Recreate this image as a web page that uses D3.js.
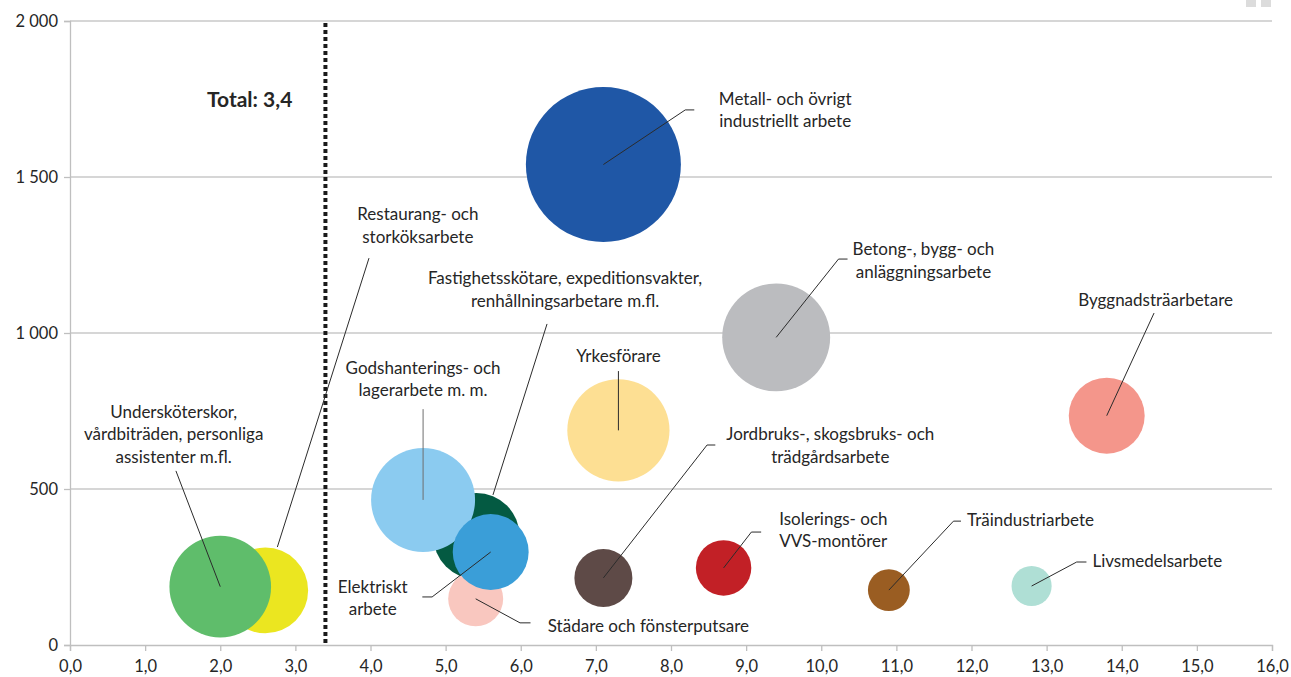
<!DOCTYPE html>
<html>
<head>
<meta charset="utf-8">
<script src="https://cdn.jsdelivr.net/npm/d3@7"></script>
<style>
  body { margin: 0; background: #fff; }
  svg text { font-family: Lato, "Noto Sans", sans-serif; fill: #262626; }
</style>
</head>
<body>
<div id="chart"></div>
<script>
// yrkesgrupper, ritordning (överlappande bubblor ligger sist)
const groups = [
    "Restaurang- och storköksarbete",
    "Undersköterskor, vårdbiträden, personliga assistenter m.fl.",
    "Fastighetsskötare, expeditionsvakter, renhållningsarbetare m.fl.",
    "Godshanterings- och lagerarbete m. m.",
    "Städare och fönsterputsare",
    "Elektriskt arbete",
    "Metall- och övrigt industriellt arbete",
    "Betong-, bygg- och anläggningsarbete",
    "Byggnadsträarbetare",
    "Yrkesförare",
    "Jordbruks-, skogsbruks- och trädgårdsarbete",
    "Isolerings- och VVS-montörer",
    "Träindustriarbete",
    "Livsmedelsarbete"
];
const xValues = [2.6, 2.0, 5.41, 4.7, 5.4, 5.6, 7.1, 9.4, 13.8, 7.3, 7.1, 8.7, 10.9, 12.8];
const yValues = [175, 187, 349, 465, 148, 298, 1540, 986, 735, 688, 215, 247, 176, 189];
const sizes   = [30.5, 43, 31, 45, 12.6, 24, 100, 48.5, 24, 43.5, 14, 12.8, 7.3, 6.7];
const colors  = ["#ebe620", "#5fbd6b", "#045a42", "#8bcbf0", "#f9c7bf", "#3a9ed8", "#1f57a6",
                 "#bbbcbf", "#f4968b", "#fddf93", "#5e4a47", "#c22026", "#9a5d22", "#afdfd5"];

const xTicks = d3.range(0, 17, 1);
const yTicks = [0, 500, 1000, 1500, 2000];
const totalValue = 3.4;

// etiketter: textrader, textankare, ev. start, hörn och slut på hänvisningslinje (i dataenheter)
const labels = [
    {lines: ["Restaurang- och", "storköksarbete"], tx: 4.63, ty: 1362, anchor: "middle", start: [2.76, 314], end: [3.98, 1240]},
    {lines: ["Undersköterskor,", "vårdbiträden, personliga", "assistenter m.fl."], tx: 1.38, ty: 728, anchor: "middle", end: [1.41, 558]},
    {lines: ["Fastighetsskötare, expeditionsvakter,", "renhållningsarbetare m.fl."], tx: 6.59, ty: 1157, anchor: "middle", start: [5.63, 481], end: [6.35, 1029]},
    {lines: ["Godshanterings- och", "lagerarbete m. m."], tx: 4.7, ty: 869, anchor: "middle", end: [4.7, 756], stroke: "#6e6e6e"},
    {lines: ["Städare och fönsterputsare"], tx: 6.36, ty: 42, anchor: "start", elbow: [5.99, 71], end: [6.13, 71]},
    {lines: ["Elektriskt", "arbete"], tx: 4.03, ty: 167, anchor: "middle", elbow: [4.82, 154], end: [4.69, 154]},
    {lines: ["Metall- och övrigt", "industriellt arbete"], tx: 9.52, ty: 1731, anchor: "middle", elbow: [8.19, 1715], end: [8.31, 1715]},
    {lines: ["Betong-, bygg- och", "anläggningsarbete"], tx: 11.36, ty: 1250, anchor: "middle", elbow: [10.23, 1237], end: [10.35, 1237]},
    {lines: ["Byggnadsträarbetare"], tx: 14.45, ty: 1087, anchor: "middle", end: [14.43, 1064]},
    {lines: ["Yrkesförare"], tx: 7.3, ty: 907, anchor: "middle", end: [7.3, 878]},
    {lines: ["Jordbruks-, skogsbruks- och", "trädgårdsarbete"], tx: 10.12, ty: 657, anchor: "middle", elbow: [8.48, 641], end: [8.59, 641]},
    {lines: ["Isolerings- och", "VVS-montörer"], tx: 9.44, ty: 385, anchor: "start", elbow: [9.07, 362], end: [9.2, 362]},
    {lines: ["Träindustriarbete"], tx: 11.94, ty: 381, anchor: "start", elbow: [11.76, 397], end: [11.86, 397]},
    {lines: ["Livsmedelsarbete"], tx: 13.61, ty: 250, anchor: "start", elbow: [13.4, 266], end: [13.53, 266]}
];

const width = 1291, height = 677;
const margin = {top: 21, right: 19, bottom: 32, left: 70};

const svg = d3.select("#chart").append("svg")
    .attr("width", width)
    .attr("height", height);

const x = d3.scaleLinear().domain([0, 16]).range([margin.left, width - margin.right]);
const y = d3.scaleLinear().domain([0, 2000]).range([height - margin.bottom, margin.top]);
const r = d3.scaleSqrt().domain([0, 100]).range([0, 77.5]);

const fmtX = d => d.toFixed(1).replace(".", ",");
const fmtY = d => d3.format(",")(d).replace(",", " ");

// gridlines
svg.append("g")
    .selectAll("line")
    .data(yTicks.filter(d => d > 0))
    .enter().append("line")
    .attr("x1", x(0))
    .attr("x2", x(16))
    .attr("y1", d => y(d))
    .attr("y2", d => y(d))
    .attr("stroke", "#c9c9c9")
    .attr("stroke-width", 1.3);

// axes
const xAxis = svg.append("g")
    .attr("transform", "translate(0," + y(0) + ")")
    .call(d3.axisBottom(x).tickValues(xTicks).tickFormat(fmtX).tickSizeOuter(0).tickSize(6).tickPadding(5));
const yAxis = svg.append("g")
    .attr("transform", "translate(" + x(0) + ",0)")
    .call(d3.axisLeft(y).tickValues(yTicks).tickFormat(fmtY).tickSizeOuter(0).tickSize(6).tickPadding(6));

[xAxis, yAxis].forEach(function(a){
    a.select(".domain").attr("stroke", "#bfbfbf").attr("stroke-width", 1.3);
    a.selectAll(".tick line").attr("stroke", "#bfbfbf").attr("stroke-width", 1.3);
    a.selectAll(".tick text").style("font-size", "16.5px").attr("fill", "#262626");
});
xAxis.selectAll(".tick text").attr("dy", "0.95em");
yAxis.selectAll(".tick text").attr("dy", "0.35em");

// total line
svg.append("line")
    .attr("x1", x(totalValue))
    .attr("x2", x(totalValue))
    .attr("y1", y(2000) + 2)
    .attr("y2", y(0))
    .attr("stroke", "#1a1a1a")
    .attr("stroke-width", 4)
    .attr("stroke-dasharray", "4,3");

svg.append("text")
    .attr("x", x(2.96))
    .attr("y", y(1725))
    .attr("text-anchor", "end")
    .style("font-size", "21px")
    .style("font-weight", "bold")
    .text("Total: " + fmtX(totalValue));

// bubbles
svg.append("g")
    .selectAll("circle")
    .data(groups)
    .enter().append("circle")
    .attr("cx", (d, i) => x(xValues[i]))
    .attr("cy", (d, i) => y(yValues[i]))
    .attr("r", (d, i) => r(sizes[i]))
    .attr("fill", (d, i) => colors[i]);

// leader lines
svg.append("g")
    .selectAll("polyline")
    .data(labels)
    .enter().append("polyline")
    .attr("points", function(d, i){
        let s = d.start || [xValues[i], yValues[i]];
        let pts = [[x(s[0]), y(s[1])]];
        if (d.elbow) pts.push([x(d.elbow[0]), y(d.elbow[1])]);
        pts.push([x(d.end[0]), y(d.end[1])]);
        return pts.map(p => p.join(",")).join(" ");
    })
    .attr("fill", "none")
    .attr("stroke", d => d.stroke || "#2b2b2b")
    .attr("stroke-width", 1);

// label text
const lbl = svg.append("g")
    .selectAll("text")
    .data(labels)
    .enter().append("text")
    .attr("x", d => x(d.tx))
    .attr("y", d => y(d.ty))
    .attr("text-anchor", d => d.anchor)
    .style("font-size", "17px");

lbl.selectAll("tspan")
    .data(d => d.lines.map(l => ({l: l, tx: d.tx})))
    .enter().append("tspan")
    .attr("x", d => x(d.tx))
    .attr("dy", (d, i) => i === 0 ? 0 : 22.5)
    .text(d => d.l);

// little grey marks in the top right corner
svg.append("g")
    .selectAll("rect")
    .data([0, 1])
    .enter().append("rect")
    .attr("x", d => 1246 + d * 15)
    .attr("y", 0)
    .attr("width", 10)
    .attr("height", 7)
    .attr("fill", "#dcdcdc");
</script>
</body>
</html>
